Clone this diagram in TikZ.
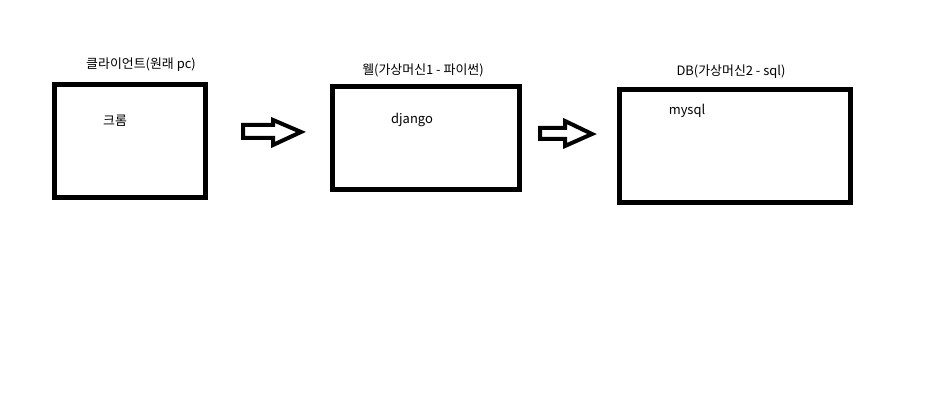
\documentclass[tikz,border=0pt]{standalone}
\usepackage{fontspec}
\setmainfont{Noto Sans CJK KR}
\usetikzlibrary{positioning}

\begin{document}
\begin{tikzpicture}[
    x=0.75pt, y=-0.75pt,
    box/.style={draw, line width=3.9pt, minimum width=#1, inner sep=0pt},
    lbl/.style={font=\fontsize{9.7}{11}\selectfont, inner sep=0pt},
    blockarr/.style={draw, line width=3pt, line join=miter}
]
\useasboundingbox (0,0) rectangle (946,413);
% boxes
\node[box=113.25pt, minimum height=84.75pt] (client) at (130,141) {};
\node[box=140.25pt, minimum height=77.25pt] (web) at (426,138) {};
\node[box=173.25pt, minimum height=84.75pt] (db) at (735,146) {};

% titles
\node[lbl] (clienttitle) at (141,65) {클라이언트(원래 pc)};
\node[lbl] (webtitle) at (423,70) {웰(가상머신1 - 파이썬)};
\node[lbl] (dbtitle) at (731,72) {DB(가상머신2 - sql)};

% contents
\node[lbl] (chrome) at (115,121) {크롬};
\node[lbl] (django) at (412,120) {django};
\node[lbl] (mysql) at (687,111) {mysql};

% arrows
\draw[blockarr] (243,125) -- (273,125) -- (273,120) -- (301,132) -- (273,145) -- (273,138) -- (243,138) -- cycle;
\draw[blockarr] (540,128) -- (565,128) -- (565,121) -- (592,134) -- (565,146) -- (565,139) -- (540,139) -- cycle;
\end{tikzpicture}
\end{document}
